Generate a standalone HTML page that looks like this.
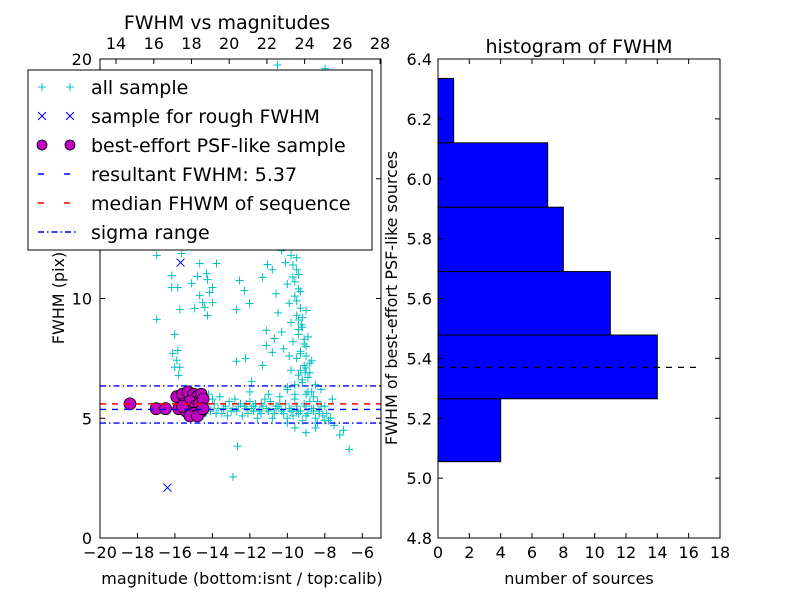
<!DOCTYPE html>
<html><head><meta charset="utf-8"><style>
body{margin:0;background:#fff;}
svg{display:block;font-family:"DejaVu Sans","Liberation Sans",sans-serif;}
</style></head><body>
<svg id="chart" width="800" height="600" viewBox="0 0 800 600" xmlns="http://www.w3.org/2000/svg"></svg>
<script>
// ---------- data ----------
const allMag = [-14.3,-14.1,-13.9,-13.7,-13.5,-13.3,-13.1,-12.9,-12.7,-12.5,-12.3,-12.1,-11.9,-11.7,-11.5,-11.3,-11.1,-10.9,-10.7,-10.5,-10.3,-10.1,-9.9,-9.7,-9.5,-9.3,-9.1,-8.9,-8.7,-8.5,-8.3,-8.1,-7.9,-7.7,
-14.0,-13.6,-13.2,-12.8,-12.4,-12.0,-11.6,-11.2,-10.8,-10.4,-10.0,-9.6,-9.2,-8.8,-8.4,-13.8,-13.4,-12.6,-12.2,-11.8,-11.4,-11.0,-10.6,-10.2,-9.8,-9.4,-9.0,-8.6,-8.2,-14.4,-14.2,-12.0,-11.0,-10.0,-9.0,-8.0,-7.6,
-10.0,-9.6,-9.2,-8.9,-9.4,-9.8,-9.1,-8.7,-9.5,-9.3,-9.0,-9.7,-9.4,-9.2,-9.8,-9.5,-9.3,-9.9,-9.6,-9.4,-10.0,-9.7,-9.5,-10.1,-9.8,-10.3,-9.9,-10.2,-9.4,-9.1,-8.8,-8.5,-8.2,-9.9,-10.3,-10.5,-10.6,-10.8,-10.2,-9.6,-8.9,-9.3,-9.0,
-9.2,-9.0,-8.8,-9.3,-9.1,-8.9,-9.4,-9.2,-9.0,-9.5,-9.3,-9.6,-9.4,-9.7,-9.5,-9.8,-9.6,-8.6,-8.4,-8.7,-9.05,-9.25,
-10.53,-7.98,-10.4,-10.2,-10.5,-10.3,
-16.97,-16.17,-16.17,-15.85,-15.74,-16.97,-16.01,-16.12,-15.85,-15.9,-16.01,-15.74,-15.8,-14.68,-14.79,-14.31,-14.26,-13.99,-14.68,-14.15,-14.52,-13.99,-14.95,-14.41,-14.26,-15.11,-13.78,-15.64,
-12.55,-12.29,-12.02,-12.71,-12.71,-12.23,-11.91,-11.33,-11.12,-10.69,-11.12,-10.8,-11.33,-11.06,-12.66,
-8,-7.5,-7,-6.7,-7.2,-7.8,-8.5,-9,-9.6,-10,-12.9,-14.6,-14.5,
-13.0,-12.2,-11.4,-10.6,-9.8,-9.0,-8.3,-11.8,-10.4,-9.5,-8.6];
const allFwhm = [5.5,5.3,5.6,5.4,5.2,5.5,5.7,5.4,5.3,5.6,5.5,5.2,5.4,5.6,5.3,5.5,5.4,5.7,5.2,5.5,5.3,5.6,5.4,5.1,5.5,5.3,5.6,5.2,5.4,5.0,5.3,5.1,5.2,5.0,
5.8,5.9,5.1,5.8,5.1,5.7,5.0,5.8,5.0,5.9,5.0,5.8,4.9,5.7,4.8,5.2,5.4,5.5,5.4,5.3,5.6,5.3,5.4,5.2,5.3,5.2,5.1,5.3,5.5,5.2,6.0,6.1,6.0,6.2,6.0,5.5,5.8,
6.3,6.4,6.5,6.7,6.8,7.0,7.2,7.4,7.5,7.8,8.0,8.2,8.5,8.8,9.0,9.3,9.6,9.8,10.1,10.4,10.6,10.9,11.2,11.5,11.8,12.0,12.3,12.6,9.1,8.3,6.9,6.4,6.2,7.6,8.6,9.4,10.2,11.2,7.9,6.0,6.1,7.0,7.6,
6.6,7.1,7.3,7.7,8.1,8.4,8.7,9.2,9.5,9.9,10.3,10.7,11.0,11.4,11.7,12.1,12.5,5.9,5.7,6.1,6.9,8.9,
19.75,19.6,13,14,16,17.5,
11.8,10.96,10.46,10.46,9.54,9.13,8.5,7.71,7.83,7.42,7.13,7.13,6.79,11.46,10.92,11.04,10.79,10.46,10.13,10.25,9.83,9.83,9.58,9.63,9.29,10.63,11.46,11.88,
10.75,10.33,9.79,9.54,7.38,7.5,6.54,7.21,8.67,8.33,8.04,7.75,10.88,11.42,3.83,
4.9,4.7,4.5,3.7,4.3,4.9,4.6,4.4,4.6,4.8,2.55,5.5,5.1,
5.3,5.6,5.2,5.5,5.4,5.5,5.2,5.5,5.6,5.3,5.4];
const roughMag = [-15.7,-16.4];
const roughFwhm = [11.5,2.1];
const bestMag = [-18.4,-17,-16.5,-15.8,-15.9,-15.6,-15.3,-15,-14.8,-14.6,-15.5,-15.2,-14.9,-14.7,-15.4,-15,-14.6,-15.2,-14.8,-15.6,-14.5,-14.5];
const bestFwhm = [5.6,5.4,5.4,5.4,5.9,6,6.1,6,5.9,6,5.6,5.7,5.5,5.6,5.3,5.2,5.3,5.1,5.1,5.5,5.8,5.4];
const resultFwhm = 5.37, medianFwhm = 5.6, sigmaLow = 4.8, sigmaHigh = 6.35;
const binEdges = [5.055,5.265,5.478,5.69,5.905,6.12,6.335];
const binCounts = [4,14,11,8,7,1];
const xTicksL = [-20,-18,-16,-14,-12,-10,-8,-6];
const yTicksL = [0,5,10,15,20];
const topTicks = [14,16,18,20,22,24,26,28];
const xTicksR = [0,2,4,6,8,10,12,14,16,18];
const yTicksR = [4.8,5.0,5.2,5.4,5.6,5.8,6.0,6.2,6.4];

// ---------- helpers ----------
const S = document.getElementById('chart');
const NS = 'http://www.w3.org/2000/svg';
function mk(tag, attrs, parent){const e=document.createElementNS(NS,tag);for(const k in attrs)e.setAttribute(k,attrs[k]);(parent||S).appendChild(e);return e;}
function txt(s,x,y,size,anchor,parent){const t=mk('text',{x:x,y:y,'font-size':size,'text-anchor':anchor||'middle',fill:'#000'},parent);t.textContent=s;return t;}
const L={x0:100,x1:381,y0:59,y1:538};
const lx = m => L.x0 + (m+20)/15*(L.x1-L.x0);
const ly = f => L.y1 - f/20*(L.y1-L.y0);
const tx = v => L.x0 + (v-13.15)/(28.05-13.15)*(L.x1-L.x0);
const R={x0:438,x1:720,y0:59,y1:538};
const rx = c => R.x0 + c/18*(R.x1-R.x0);
const ry = f => R.y1 - (f-4.8)/1.6*(R.y1-R.y0);
const fmt = v => v<0 ? '\u2212'+(-v) : ''+v;

// ---------- left plot ----------
const gL = mk('g',{});


mk('rect',{x:L.x0,y:L.y0,width:L.x1-L.x0,height:L.y1-L.y0,fill:'#fff'},gL);
const pts = mk('g',{stroke:'#00bfbf','stroke-width':1},gL);


for(let i=0;i<allMag.length;i++){const x=lx(allMag[i]),y=ly(allFwhm[i]);
  const p=mk('path',{d:`M${x-4} ${y}H${x+4}M${x} ${y-4}V${y+4}`},pts);
  
  }
for(let i=0;i<roughMag.length;i++){const x=lx(roughMag[i]),y=ly(roughFwhm[i]);
  const p=mk('path',{d:`M${x-4} ${y-4}L${x+4} ${y+4}M${x-4} ${y+4}L${x+4} ${y-4}`,stroke:'#0000ff','stroke-width':1},gL);
  
  }
for(let i=0;i<bestMag.length;i++){
  const c=mk('circle',{cx:lx(bestMag[i]),cy:ly(bestFwhm[i]),r:6,fill:'#bf00bf',stroke:'#000','stroke-width':0.8},gL);
  
  }
function hline(v,color,dash,name){const l=mk('line',{x1:L.x0,x2:L.x1,y1:ly(v),y2:ly(v),stroke:color,'stroke-width':1.4,'stroke-dasharray':dash},gL);
  
  }
hline(resultFwhm,'#0000ff','6 6','resultant-fwhm-line');
hline(medianFwhm,'#ff0000','6 6','median-fwhm-line');
hline(sigmaLow,'#0000ff','6 3 1.5 3','sigma-low-line');
hline(sigmaHigh,'#0000ff','6 3 1.5 3','sigma-high-line');
mk('rect',{x:L.x0,y:L.y0,width:L.x1-L.x0,height:L.y1-L.y0,fill:'none',stroke:'#000','stroke-width':1},gL);
xTicksL.forEach(v=>{const x=lx(v);mk('path',{d:`M${x} ${L.y1}v-5`,stroke:'#000'},gL);txt(fmt(v),x,L.y1+20,16,'middle',gL);});
yTicksL.forEach(v=>{const y=ly(v);mk('path',{d:`M${L.x0} ${y}h5M${L.x1} ${y}h-5`,stroke:'#000'},gL);txt(''+v,L.x0-8,y+6,16,'end',gL);});
topTicks.forEach(v=>{const x=tx(v);mk('path',{d:`M${x} ${L.y0}v5`,stroke:'#000'},gL);txt(''+v,x,L.y0-10,16,'middle',gL);});
const tl=txt('FWHM vs magnitudes',227,29,19,'middle');


const xl=txt('magnitude (bottom:isnt / top:calib)',242,584,16,'middle');


const yl=txt('FWHM (pix)',64,298,16,'middle');yl.setAttribute('transform','rotate(-90 64 298)');



// legend
const lg=mk('g',{});


mk('rect',{x:28,y:70,width:344,height:180,fill:'#fff',stroke:'#000','stroke-width':1},lg);
const labels=['all sample','sample for rough FWHM','best-effort PSF-like sample','resultant FWHM: 5.37','median FHWM of sequence','sigma range'];
labels.forEach((s,i)=>{const y=87+i*29;
  const e=mk('g',{},lg);
  
  
  if(i==0){[42,70].forEach(x=>mk('path',{d:`M${x-4} ${y}H${x+4}M${x} ${y-4}V${y+4}`,stroke:'#00bfbf'},e));}
  if(i==1){[42,70].forEach(x=>mk('path',{d:`M${x-4} ${y-4}L${x+4} ${y+4}M${x-4} ${y+4}L${x+4} ${y-4}`,stroke:'#0000ff'},e));}
  if(i==2){[42,70].forEach(x=>mk('circle',{cx:x,cy:y,r:5,fill:'#bf00bf',stroke:'#000','stroke-width':0.8},e));}
  if(i==3)mk('line',{x1:38,x2:76,y1:y,y2:y,stroke:'#0000ff','stroke-dasharray':'6 20','stroke-width':1.4},e);
  if(i==4)mk('line',{x1:38,x2:76,y1:y,y2:y,stroke:'#ff0000','stroke-dasharray':'6 20','stroke-width':1.4},e);
  if(i==5)mk('line',{x1:38,x2:76,y1:y,y2:y,stroke:'#0000ff','stroke-dasharray':'6 3 1.5 3','stroke-width':1.4},e);
  txt(s,91,y+7,19,'start',e);});

// ---------- right plot ----------
const gR=mk('g',{});


for(let i=0;i<binCounts.length;i++){
  const b=mk('rect',{x:R.x0,y:ry(binEdges[i+1]),width:rx(binCounts[i])-R.x0,height:ry(binEdges[i])-ry(binEdges[i+1]),fill:'#0000ff',stroke:'#000','stroke-width':1},gR);
  
  }
const rl=mk('line',{x1:R.x0,x2:rx(16.6),y1:ry(resultFwhm),y2:ry(resultFwhm),stroke:'#000','stroke-dasharray':'6 6','stroke-width':1.2},gR);


mk('rect',{x:R.x0,y:R.y0,width:R.x1-R.x0,height:R.y1-R.y0,fill:'none',stroke:'#000','stroke-width':1},gR);
xTicksR.forEach(v=>{const x=rx(v);mk('path',{d:`M${x} ${R.y1}v-5M${x} ${R.y0}v5`,stroke:'#000'},gR);txt(''+v,x,R.y1+20,16,'middle',gR);});
yTicksR.forEach(v=>{const y=ry(v);mk('path',{d:`M${R.x0} ${y}h5M${R.x1} ${y}h-5`,stroke:'#000'},gR);txt(v.toFixed(1),R.x0-6,y+6,16,'end',gR);});
const tr=txt('histogram of FWHM',579,53,19,'middle');


const xr=txt('number of sources',579,584,16,'middle');


const yr=txt('FWHM of best-effort PSF-like sources',397,298,16,'middle');yr.setAttribute('transform','rotate(-90 397 298)');


</script>
</body></html>
